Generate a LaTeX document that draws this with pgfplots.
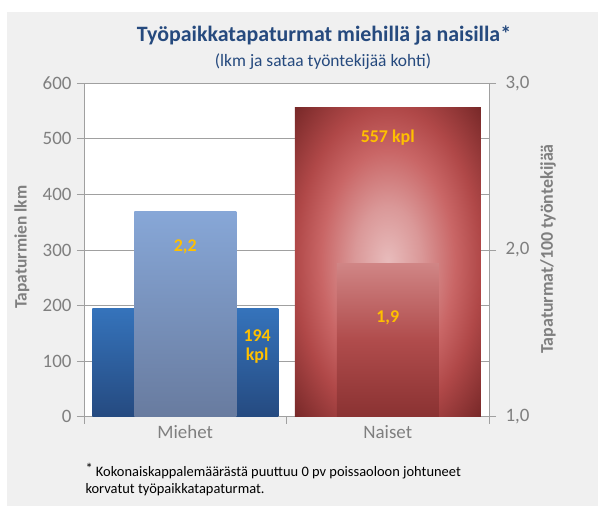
\documentclass[border=0pt]{standalone}
\usepackage{fontspec}
\setmainfont{Carlito}
\usepackage{pgfplots}
\pgfplotsset{compat=1.18}
\definecolor{bgc}{HTML}{F0F0F0}
\definecolor{titlec}{HTML}{264A7E}
\definecolor{tickc}{HTML}{7F7F7F}
\definecolor{linec}{HTML}{A0A0A0}
\definecolor{labc}{HTML}{FFC000}
\definecolor{bA}{HTML}{3573BB}
\definecolor{bB}{HTML}{254A80}
\definecolor{lA}{HTML}{87A7D7}
\definecolor{lB}{HTML}{687B9F}
\definecolor{rg0}{HTML}{E8BCBC}
\definecolor{rg1}{HTML}{DA9898}
\definecolor{rg2}{HTML}{C96666}
\definecolor{rg3}{HTML}{B04848}
\definecolor{rg4}{HTML}{772828}
\definecolor{pA}{HTML}{D08585}
\definecolor{pM}{HTML}{B04C4C}
\definecolor{pB}{HTML}{8A3232}
\pgfdeclareradialshading{redglow}{\pgfpointorigin}{color(0bp)=(rg0); color(9bp)=(rg1); color(18bp)=(rg2); color(25bp)=(rg3); color(35.4bp)=(rg4); color(50bp)=(rg4)}
\begin{document}
\begin{tikzpicture}
\useasboundingbox (0,0) rectangle (598bp,508bp);
\fill[bgc] (7bp,2bp) rectangle (598bp,496bp);
\node[text=titlec, font=\fontsize{22}{22}\selectfont\bfseries] at (324bp,472bp) {Työpaikkatapaturmat miehillä ja naisilla*};
\node[text=titlec, font=\fontsize{17.5}{17.5}\selectfont] at (323bp,446bp) {(lkm ja sataa työntekijää kohti)};
\begin{axis}[
  at={(84bp,91.3bp)}, anchor=south west, scale only axis,
  width=405bp, height=333.4bp,
  xmin=-0.5, xmax=1.5, ymin=0, ymax=600,
  axis background/.style={fill=white},
  axis x line*=bottom, axis y line*=left,
  xtick={-0.5,0.5,1.5}, xticklabels={},
  extra x ticks={0,1}, extra x tick labels={Miehet,Naiset},
  extra x tick style={major tick length=0pt, xticklabel style={yshift=-5bp}},
  ytick={0,100,...,600},
  ymajorgrids, grid style={linec, line width=0.9pt},
  axis line style={linec, line width=0.9pt, -},
  tick style={linec, line width=0.9pt},
  tick align=outside, major tick length=7bp,
  ticklabel style={font=\fontsize{19}{19}\selectfont, text=tickc},
  yticklabel style={xshift=-2bp},
  /pgf/number format/assume math mode=true,
  clip=true,
]
\addplot[ybar, bar width=186bp, bar shift=0pt, draw=none, top color=bA, bottom color=bB] coordinates {(0,194)};
\addplot[ybar, bar width=186bp, bar shift=0pt, draw=none, fill=rg3, shade, shading=redglow] coordinates {(1,557)};
\end{axis}
\begin{axis}[
  at={(84bp,91.3bp)}, anchor=south west, scale only axis,
  width=405bp, height=333.4bp,
  xmin=-0.5, xmax=1.5, ymin=0, ymax=2,
  axis x line=none, axis y line*=right,
  ytick={0,1,2}, yticklabels={{1,0},{2,0},{3,0}},
  y filter/.expression={y-1},
  axis line style={linec, line width=0.9pt, -},
  tick style={linec, line width=0.9pt},
  tick align=outside, major tick length=7bp,
  ticklabel style={font=\fontsize{19}{19}\selectfont, text=tickc},
  yticklabel style={xshift=6bp},
]
\addplot[ybar, bar width=102bp, bar shift=0pt, draw=none, top color=lA, bottom color=lB] coordinates {(0,2.23)};
\addplot[ybar, bar width=102bp, bar shift=0pt, draw=none, top color=pA, bottom color=pB, middle color=pM] coordinates {(1,1.92)};
\end{axis}
\begin{axis}[
  at={(84bp,91.3bp)}, anchor=south west, scale only axis,
  width=405bp, height=333.4bp,
  xmin=-0.5, xmax=1.5, ymin=0, ymax=600,
  hide axis,
  nodes={text=labc, font=\fontsize{18}{18}\selectfont\bfseries},
]
\node at (axis cs:0,305) {2,2};
\node[align=center] at (axis cs:0.355,127) {194\\[1bp]kpl};
\node at (axis cs:1,503) {557 kpl};
\node at (axis cs:1,178) {1,9};
\end{axis}
\node[rotate=90, text=tickc, font=\fontsize{17.5}{17.5}\selectfont\bfseries] at (22bp,261bp) {Tapaturmien lkm};
\node[rotate=90, text=tickc, font=\fontsize{18}{18}\selectfont\bfseries] at (548bp,259bp) {Tapaturmat/100 työntekijää};
\node[anchor=west, font=\fontsize{14.5}{14.5}\selectfont] at (82bp,37bp) {\raisebox{2.5bp}{*} Kokonaiskappalemäärästä puuttuu 0 pv poissaoloon johtuneet};
\node[anchor=west, font=\fontsize{14.5}{14.5}\selectfont] at (82bp,18bp) {korvatut työpaikkatapaturmat.};
\end{tikzpicture}
\end{document}
